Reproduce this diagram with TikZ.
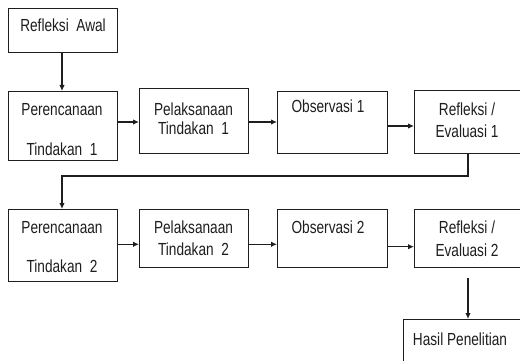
\documentclass[tikz,border=0pt]{standalone}
\usepackage{fontspec}
\setmainfont{Liberation Sans}[FakeStretch=0.78]
\usetikzlibrary{arrows.meta}
\definecolor{ink}{HTML}{1E1E1E}
\begin{document}
\begin{tikzpicture}[x=1pt,y=-1pt,
  box/.style={draw=ink,line width=1.1pt,inner sep=0pt,anchor=north west},
  lbl/.style={anchor=base,inner sep=0pt,text=ink,font=\fontsize{17.5}{20}\selectfont},
  arr/.style={draw=ink,line width=1.1pt,-{Latex[length=6pt,width=5.5pt]}}]
\useasboundingbox (0,0) rectangle (520,361);
\clip (0,0) rectangle (520,361);
\fill[white] (0,0) rectangle (520,361);
% boxes
\node[box,minimum width=109pt,minimum height=44pt] (ra) at (8,8) {};
\node[box,minimum width=109pt,minimum height=69pt] (p1) at (8,91) {};
\node[box,minimum width=109pt,minimum height=65pt] (l1) at (139,88) {};
\node[box,minimum width=110pt,minimum height=62pt] (o1) at (277,91) {};
\node[box,minimum width=111pt,minimum height=63pt] (r1) at (414,90) {};
\node[box,minimum width=109pt,minimum height=72pt] (p2) at (8,209) {};
\node[box,minimum width=109pt,minimum height=58pt] (l2) at (139,209) {};
\node[box,minimum width=110pt,minimum height=58pt] (o2) at (277,209) {};
\node[box,minimum width=111pt,minimum height=58pt] (r2) at (414,209) {};
\node[box,minimum width=127pt,minimum height=60pt] (hp) at (403,319) {};
% texts
\node[lbl] (tra) at (63,31.7) {Refleksi\ \ Awal};
\node[lbl] (tp1a) at (62,115.7) {Perencanaan};
\node[lbl] (tp1b) at (62,155) {Tindakan\ \ 1};
\node[lbl] (tl1a) at (193.5,115) {Pelaksanaan};
\node[lbl] (tl1b) at (193.5,135) {Tindakan\ \ 1};
\node[lbl] (to1) at (328,113) {Observasi 1};
\node[lbl] (tr1a) at (467,115) {Refleksi /};
\node[lbl] (tr1b) at (467,137) {Evaluasi 1};
\node[lbl] (tp2a) at (62,233) {Perencanaan};
\node[lbl] (tp2b) at (62,272) {Tindakan\ \ 2};
\node[lbl] (tl2a) at (193.5,233) {Pelaksanaan};
\node[lbl] (tl2b) at (193.5,255) {Tindakan\ \ 2};
\node[lbl] (to2) at (328,233) {Observasi 2};
\node[lbl] (tr2a) at (467,233) {Refleksi /};
\node[lbl] (tr2b) at (467,256) {Evaluasi 2};
\node[lbl] (thp) at (460,345) {Hasil Penelitian};
% connectors
\coordinate (fb) at (468,176);
\coordinate (hs) at (468,278);
\draw[arr] (ra.south -| 62,0) -- (p1.north -| 62,0);
\draw[arr] (p1.east |- 0,122) -- (l1.west |- 0,122);
\draw[arr] (l1.east |- 0,122) -- (o1.west |- 0,122);
\draw[arr] (o1.east |- 0,126) -- (r1.west |- 0,126);
\draw[arr] (r1.south -| fb) -- (fb) -- (fb -| 62,0) -- (p2.north -| 62,0);
\draw[arr] (p2.east |- 0,244.3) -- (l2.west |- 0,244.3);
\draw[arr] (l2.east |- 0,244.3) -- (o2.west |- 0,244.3);
\draw[arr] (o2.east |- 0,246.7) -- (r2.west |- 0,246.7);
\draw[arr] (hs) -- (hp.north -| hs);
\end{tikzpicture}
\end{document}
